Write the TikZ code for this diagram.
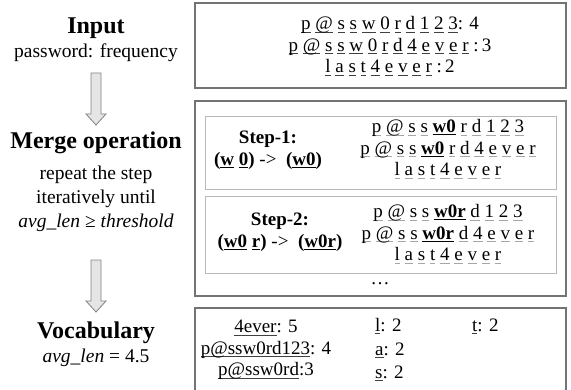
\documentclass[tikz,border=0pt]{standalone}
\usepackage{fontspec}
\setmainfont{Liberation Serif}
\usepackage{tikz}
\usetikzlibrary{calc}

\definecolor{boxline}{gray}{0.45}
\definecolor{innerline}{gray}{0.72}
\definecolor{arrowfill}{gray}{0.9}
\definecolor{arrowline}{gray}{0.5}

% underlined token: colour, rule thickness, text
\newcommand{\tkline}[3]{\setbox0=\hbox{#3}\rlap{\color{#1}\rule[-2.6pt]{\wd0}{#2}}\box0\relax}
\newcommand{\tk}[1]{\tkline{black!75}{0.7pt}{#1}}
\newcommand{\tg}[1]{\tkline{black!35}{0.8pt}{#1}}
\newcommand{\tkb}[1]{\tkline{black}{1pt}{\bfseries #1}}

% block arrow between two coordinates
\newcommand{\blockarrow}[2]{%
  \path let \p1=(#1), \p2=(#2) in
    [fill=arrowfill, draw=arrowline, line width=0.8pt]
    (\x1-5pt,\y1) -- (\x1+5pt,\y1) -- (\x1+5pt,\y2+11pt) -- (\x1+10pt,\y2+11pt)
    -- (\x1,\y2) -- (\x1-10pt,\y2+11pt) -- (\x1-5pt,\y2+11pt) -- cycle;}

\begin{document}
\begin{tikzpicture}[x=1pt, y=-1pt,
    head/.style={font=\fontsize{24}{26}\selectfont\bfseries, inner sep=0},
    body/.style={font=\fontsize{19.5}{24}\selectfont, inner sep=0, align=center},
    row/.style={font=\fontsize{19}{21.5}\selectfont, inner sep=0, align=center},
    steplabel/.style={font=\fontsize{19}{21.5}\selectfont\bfseries, inner sep=0, align=center},
    outerbox/.style={draw=boxline, line width=1.1pt},
    innerbox/.style={draw=innerline, line width=1pt}]
  \useasboundingbox (0,0) rectangle (571,389);

  % left column
  \node[head] (input) at (96,28) {Input};
  \node[body] (freq) at (96,53) {password: frequency};
  \node[head] (merge) at (96,143) {Merge operation};
  \node[body] (until) at (96,199) {repeat the step\\iteratively until\\\textit{avg\_len} ≥ \textit{threshold}};
  \node[head] (vocab) at (96,333) {Vocabulary};
  \node[body] (avg) at (96,358) {\textit{avg\_len} = 4.5};

  \coordinate (a1top) at (96,73);
  \coordinate (a1tip) at (96,125);
  \coordinate (a2top) at (96,260);
  \coordinate (a2tip) at (96,312);
  \blockarrow{a1top}{a1tip}
  \blockarrow{a2top}{a2tip}

  % input box
  \draw[outerbox] (195,3) rectangle (566,88);
  \node[row] (words) at (390,46) {%
    \tk{p} \tk{@} \tk{s} \tk{s} \tk{w} \tk{0} \tk{r} \tk{d} \tk{1} \tk{2} \tk{3}: 4\\
    \tk{p} \tk{@} \tk{s} \tk{s} \tk{w} \tk{0} \tk{r} \tk{d} \tk{4} \tk{e} \tk{v} \tk{e} \tk{r} :\,3\\
    \tk{l} \tk{a} \tk{s} \tk{t} \tk{4} \tk{e} \tk{v} \tk{e} \tk{r} :\,2};

  % merge box
  \draw[outerbox] (195,101) rectangle (566,296);
  \draw[innerbox] (205,116) rectangle (556,189);
  \draw[innerbox] (205,196) rectangle (556,273);

  \node[steplabel] (step1) at (268,150) {Step-1:\\(\tkb{w} \tkb{0}) {\mdseries -{>}}\ \ (\tkb{w0})};
  \node[row] (rows1) at (448,149) {%
    \tg{p} \tg{@} \tg{s} \tg{s} \tkb{w0} \tg{r} \tg{d} \tg{1} \tg{2} \tg{3}\\
    \tg{p} \tg{@} \tg{s} \tg{s} \tkb{w0} \tg{r} \tg{d} \tg{4} \tg{e} \tg{v} \tg{e} \tg{r}\\
    \tg{l} \tg{a} \tg{s} \tg{t} \tg{4} \tg{e} \tg{v} \tg{e} \tg{r}};

  \node[steplabel] (step2) at (280,232) {Step-2:\\(\tkb{w0} \tkb{r}) {\mdseries -{>}}\ \ (\tkb{w0r})};
  \node[row] (rows2) at (448,234) {%
    \tg{p} \tg{@} \tg{s} \tg{s} \tkb{w0r} \tg{d} \tg{1} \tg{2} \tg{3}\\
    \tg{p} \tg{@} \tg{s} \tg{s} \tkb{w0r} \tg{d} \tg{4} \tg{e} \tg{v} \tg{e} \tg{r}\\
    \tg{l} \tg{a} \tg{s} \tg{t} \tg{4} \tg{e} \tg{v} \tg{e} \tg{r}};

  \node[row] (dots) at (380,284) {\dots};

  % vocabulary box (runs past the bottom edge)
  \draw[outerbox] (195,393) -- (195,308) -- (566,308) -- (566,393);
  \node[row] (v1) at (266,350) {\tk{4ever}: 5\\\tk{p@ssw0rd123}: 4\\\tk{p@ssw0rd}:3};
  \node[row, anchor=base west] (vl) at (375,331) {\tk{l}: 2};
  \node[row, anchor=base west] (va) at (375,355) {\tk{a}: 2};
  \node[row, anchor=base west] (vs) at (375,378) {\tk{s}: 2};
  \node[row, anchor=base west] (vt) at (472,331) {\tk{t}: 2};
\end{tikzpicture}
\end{document}
